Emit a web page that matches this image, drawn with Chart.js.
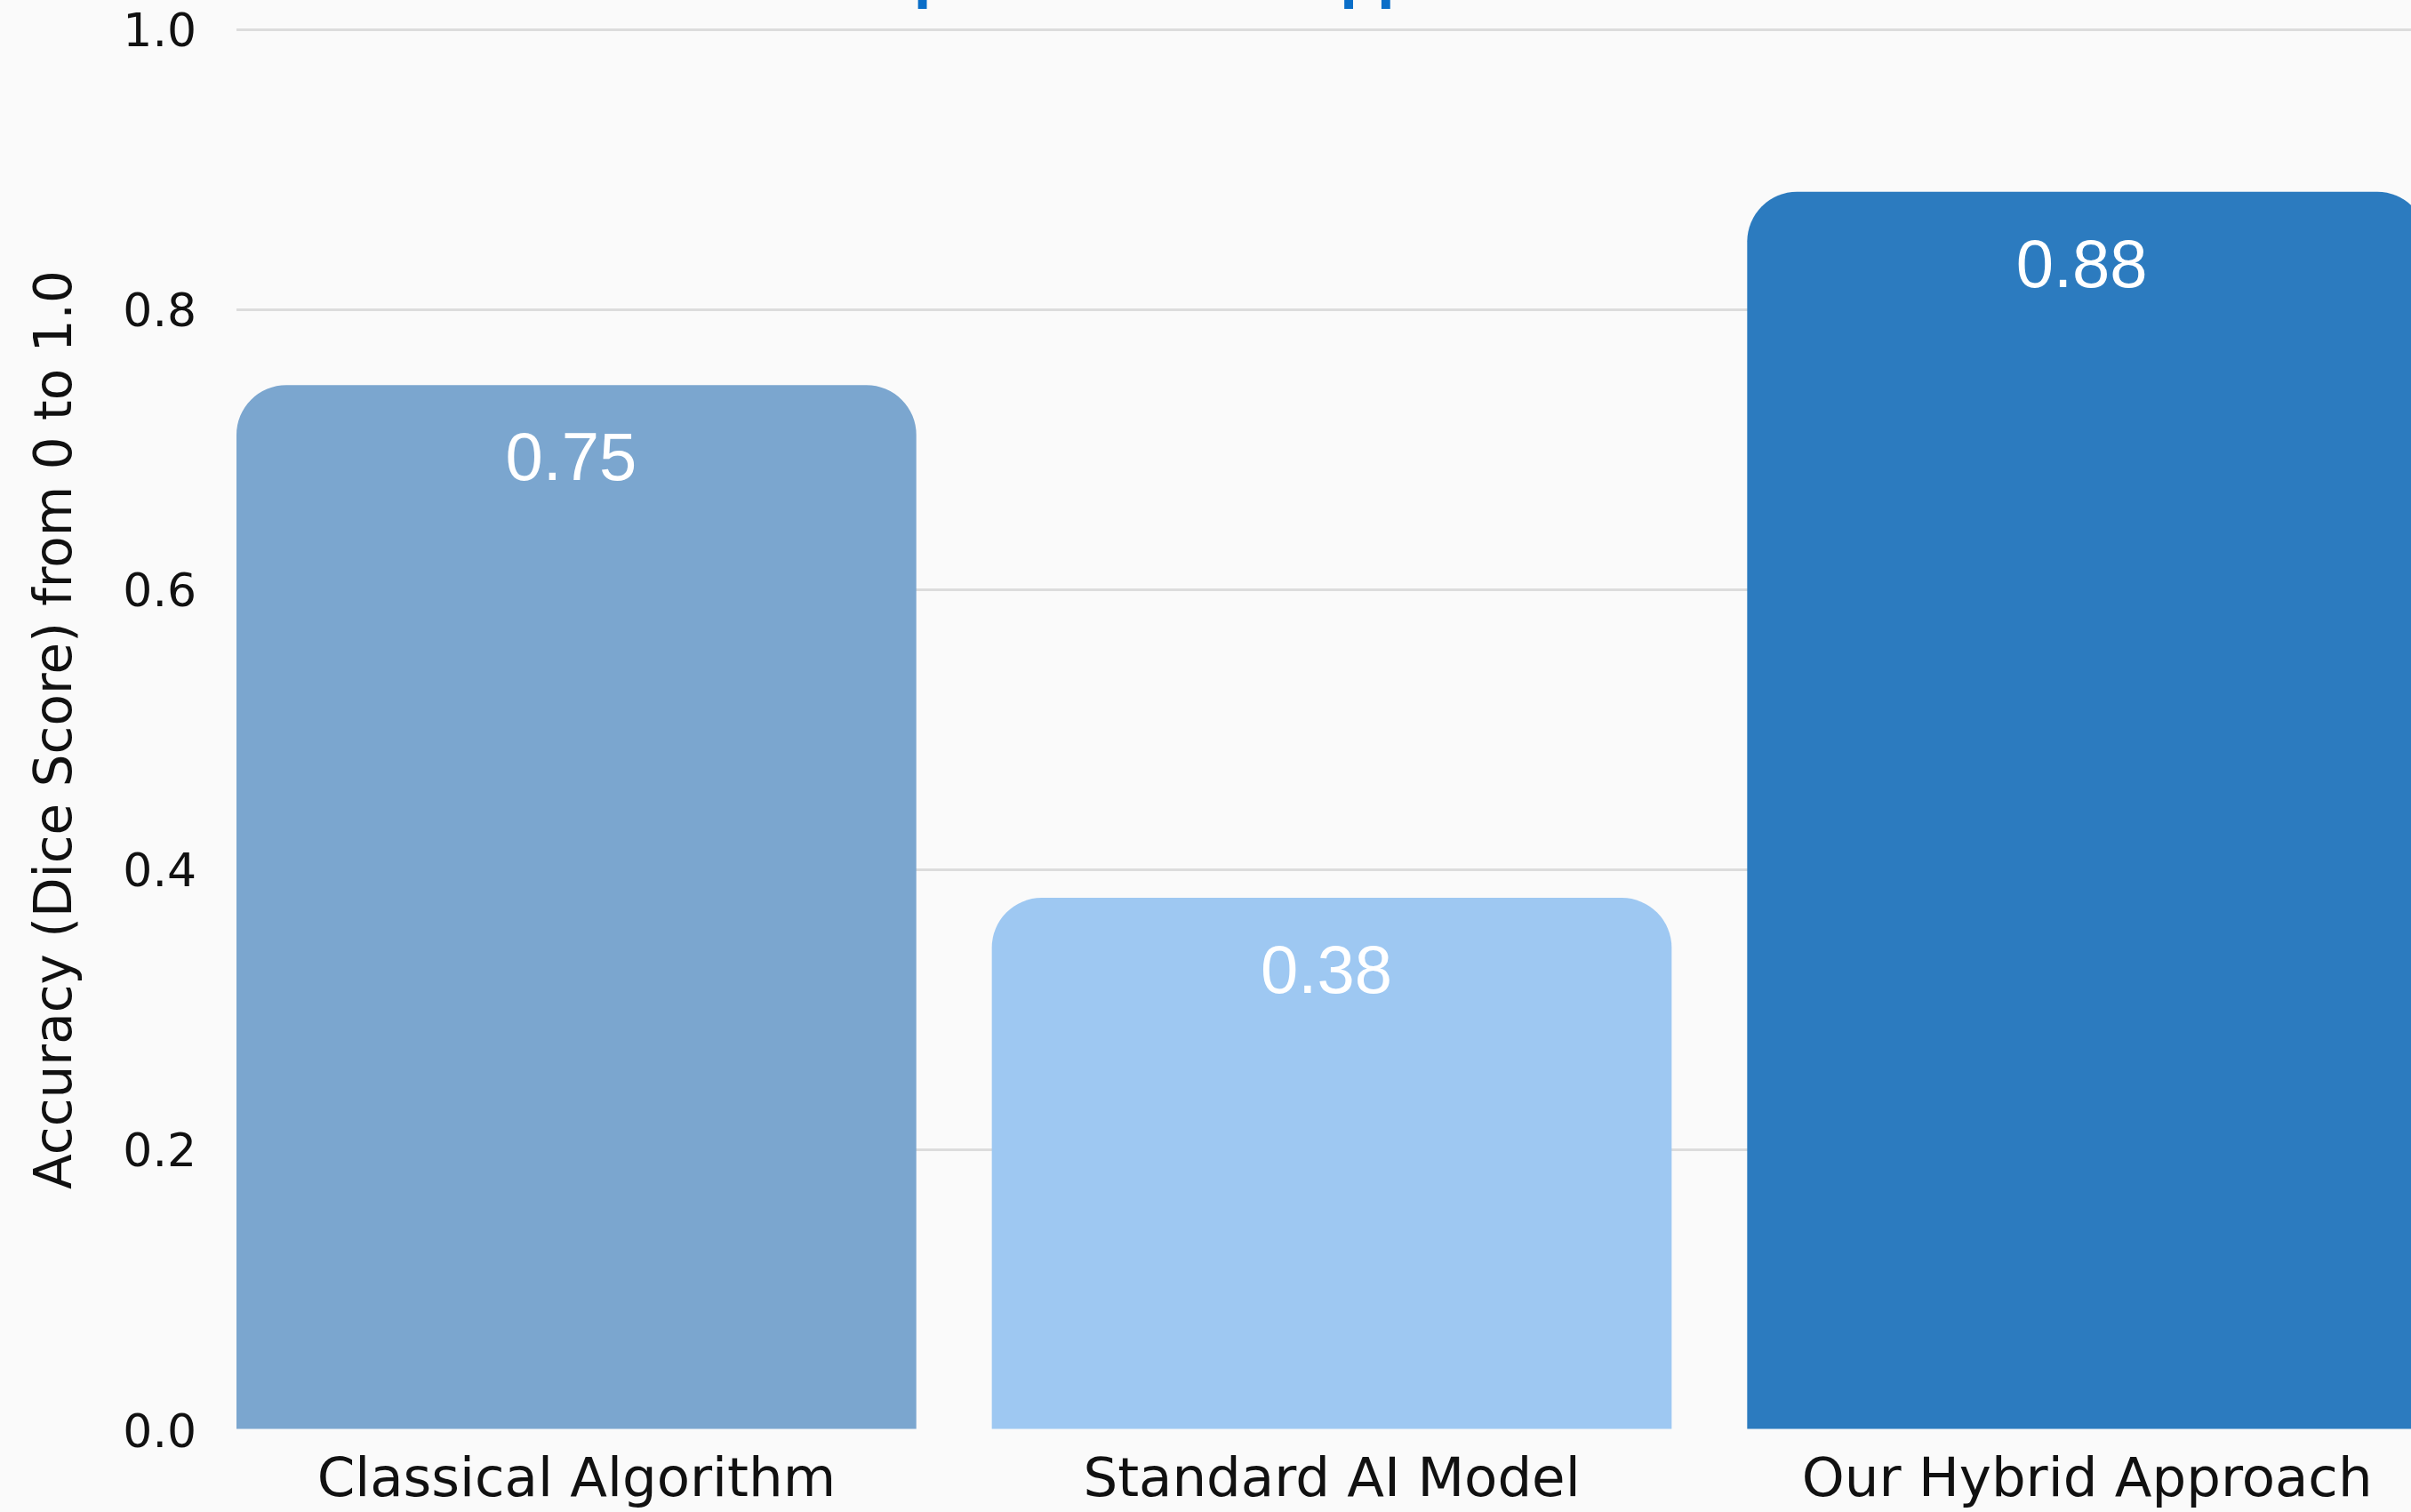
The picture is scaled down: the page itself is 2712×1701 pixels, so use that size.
<!DOCTYPE html>
<html>
<head>
<meta charset="utf-8">
<script src="https://cdn.jsdelivr.net/npm/chart.js@4/dist/chart.umd.min.js"></script>
<style>
  html, body { margin: 0; padding: 0; width: 2712px; height: 1701px; overflow: hidden; background: #fafafa; }
  #chart { position: absolute; left: 0; top: -74px; }
</style>
</head>
<body>
<canvas id="chart" width="2730" height="1803"></canvas>
<script>
// data
const categories = ['Classical Algorithm', 'Standard AI Model', 'Our Hybrid Approach'];
const diceScores = [0.746, 0.38, 0.884];
const barColors = ['#7ba6cf', '#9ec8f2', '#2c7bbf'];
const yTicks = [0, 0.2, 0.4, 0.6, 0.8, 1.0];

const labelFont = "'DejaVu Sans', sans-serif";

// white value labels drawn inside the top of each bar
const valueLabels = {
  id: 'valueLabels',
  afterDatasetsDraw(chart) {
    const ctx = chart.ctx;
    const meta = chart.getDatasetMeta(0);
    ctx.save();
    ctx.fillStyle = '#ffffff';
    ctx.font = "76px 'Liberation Sans', Arial, sans-serif";
    ctx.textAlign = 'center';
    ctx.textBaseline = 'middle';
    meta.data.forEach((bar, i) => {
      ctx.fillText(diceScores[i].toFixed(2), bar.x - 6, bar.y + 86);
    });
    ctx.restore();
  }
};

const ctx = document.getElementById('chart').getContext('2d');
new Chart(ctx, {
  type: 'bar',
  data: {
    datasets: [{
      data: diceScores.map((v, i) => ({ x: i, y: v })),
      backgroundColor: barColors,
      borderRadius: 56,
      borderSkipped: 'start',
      barPercentage: 0.9,
      categoryPercentage: 1.0
    }]
  },
  options: {
    responsive: false,
    devicePixelRatio: 1,
    animation: false,
    layout: { padding: 0 },
    plugins: {
      legend: { display: false },
      tooltip: { enabled: false },
      title: {
        display: true,
        text: 'Comparison of AI Approaches',
        color: '#0a6ec8',
        font: { family: "'Open Sans', sans-serif", size: 66, weight: 'bold', lineHeight: 1.0 },
        padding: { top: 16, bottom: 25 }
      }
    },
    scales: {
      x: {
        type: 'linear',
        offset: false,
        min: -0.45,
        max: 2.45,
        grid: { display: false, drawTicks: false },
        border: { display: false },
        ticks: {
          stepSize: 1,
          includeBounds: false,
          autoSkip: false,
          maxRotation: 0,
          padding: 22,
          color: '#111111',
          font: { family: labelFont, size: 61 },
          callback: (v) => (Number.isInteger(v) ? categories[v] : '')
        },
        afterFit: (scale) => { scale.height = 120; }
      },
      y: {
        min: 0,
        max: 1,
        grid: {
          drawTicks: false,
          lineWidth: 3,
          color: (c) => (c.tick && c.tick.value === 0 ? 'rgba(0,0,0,0)' : '#dcdcdc')
        },
        border: { display: false },
        afterBuildTicks: (scale) => { scale.ticks = yTicks.map((v) => ({ value: v })); },
        ticks: {
          padding: 45,
          labelOffset: 5,
          color: '#111111',
          font: { family: labelFont, size: 52 },
          callback: (v) => v.toFixed(1)
        },
        title: {
          display: true,
          text: 'Accuracy (Dice Score) from 0 to 1.0',
          color: '#111111',
          font: { family: labelFont, size: 58, lineHeight: 1.2 },
          padding: { top: 30, bottom: 0 }
        },
        afterFit: (scale) => { scale.width = 266; }
      }
    }
  },
  plugins: [valueLabels]
});
</script>
</body>
</html>
